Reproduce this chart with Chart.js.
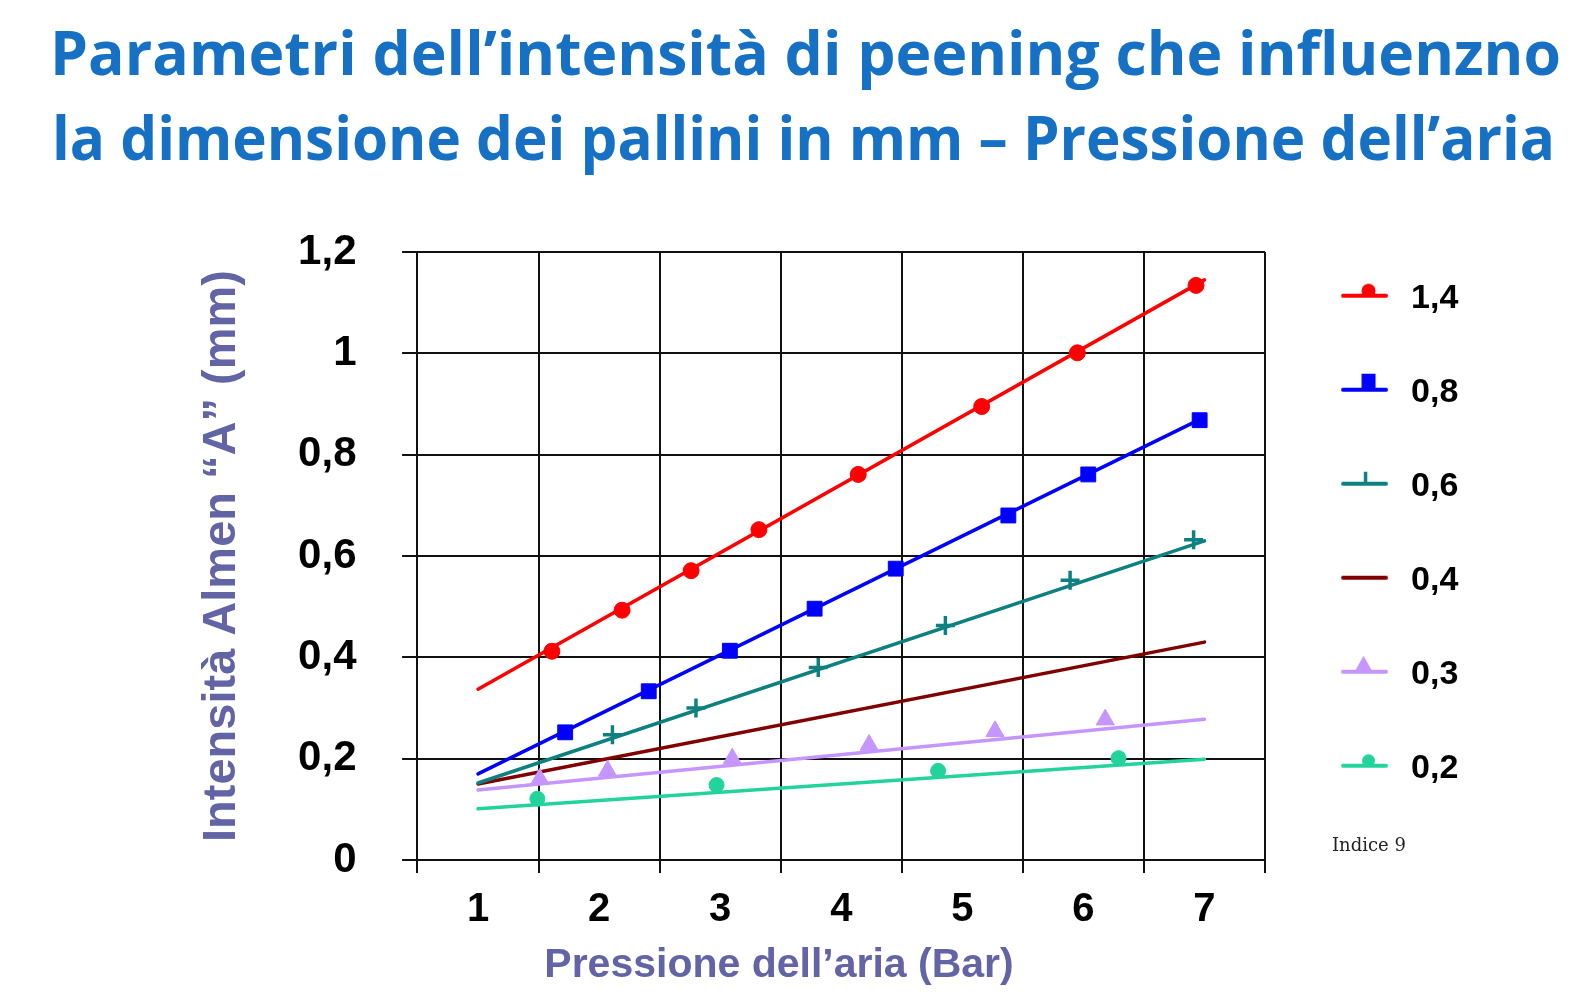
<!DOCTYPE html>
<html>
<head>
<meta charset="utf-8">
<script src="https://cdn.jsdelivr.net/npm/chart.js@4/dist/chart.umd.min.js"></script>
<style>
  html, body { margin: 0; padding: 0; background: #ffffff; }
  #wrap { position: relative; width: 1581px; height: 995px; overflow: hidden; }
  #chartBox { position: absolute; left: 0; top: 0; width: 1581px; height: 995px; }
  .ttl { position: absolute; white-space: nowrap; font-family: 'Open Sans', 'Noto Sans', sans-serif;
         font-weight: 700; font-size: 60px; line-height: 1; color: #1670c4; transform-origin: 0 0; }
  #xTitle { position: absolute; left: 0; width: 1558px; top: 943px; text-align: center;
            font-family: 'Liberation Sans', Arial, sans-serif; font-weight: 700; font-size: 41px;
            line-height: 1; color: #6264a6; white-space: nowrap; }
  #note { position: absolute; left: 1332px; top: 836px; font-family: 'DejaVu Serif', serif;
          font-size: 18px; line-height: 1; color: #222; white-space: nowrap; }
</style>
</head>
<body>
<div id="wrap">
  <div id="chartBox"><canvas id="c"></canvas></div>
  <div class="ttl" id="t1">Parametri dell’intensità di peening che influenzno</div>
  <div class="ttl" id="t2">la dimensione dei pallini in mm – Pressione dell’aria</div>
  <div id="xTitle">Pressione dell’aria (Bar)</div>
  <div id="note">Indice 9</div>
</div>
<script>
// ---------- data ----------
const seriesLabels = ['1,4', '0,8', '0,6', '0,4', '0,3', '0,2'];
const trendX = [1, 7];
const trendStart = [0.337, 0.170, 0.152, 0.150, 0.138, 0.101];   // value at x = 1
const trendEnd   = [1.145, 0.874, 0.630, 0.430, 0.278, 0.199];   // value at x = 7

const redX   = [1.61, 2.19, 2.76, 3.32, 4.14, 5.16, 5.95, 6.93];
const redY   = [0.412, 0.493, 0.571, 0.652, 0.761, 0.895, 1.001, 1.134];
const blueX  = [1.72, 2.41, 3.08, 3.78, 4.45, 5.38, 6.04, 6.96];
const blueY  = [0.252, 0.333, 0.413, 0.496, 0.575, 0.680, 0.761, 0.868];
const tealX  = [2.11, 2.80, 3.81, 4.86, 5.89, 6.91];
const tealY  = [0.247, 0.300, 0.380, 0.463, 0.552, 0.632];
const lilacX = [1.51, 2.07, 3.10, 4.23, 5.27, 6.18];
const lilacY = [0.160, 0.176, 0.200, 0.227, 0.254, 0.277];
const mintX  = [1.49, 2.97, 4.80, 6.29];
const mintY  = [0.121, 0.148, 0.176, 0.201];

const xMin = 0.5, xMax = 7.5, xStep = 0.5;
const yMin = 0, yMax = 1.2, yStep = 0.2;

// ---------- styles ----------
const colors  = ['#ff0000', '#0000ff', '#0f8080', '#800000', '#c596ff', '#22d49b'];
const mStyles = ['circle', 'rect', 'cross', null, 'triangle', 'circle'];
const mRadius = [8, 10.5, 9.5, 0, 10.5, 7.5];
const pointsX = [redX, blueX, tealX, null, lilacX, mintX];
const pointsY = [redY, blueY, tealY, null, lilacY, mintY];

function pairs(xs, ys) { return xs.map((x, i) => ({x: x, y: ys[i]})); }

// legend icons: short line with the marker sitting on top of it
function makeIcon(i) {
  const W = 69, H = 40, ly = 17, mx = 43.5;
  const c = document.createElement('canvas');
  c.width = W; c.height = H;
  const g = c.getContext('2d');
  g.strokeStyle = colors[i]; g.fillStyle = colors[i];
  g.save();
  g.beginPath(); g.rect(0, 0, W, ly + 1); g.clip();
  const s = mStyles[i];
  if (s === 'circle') {
    const r = i === 0 ? 7 : 6.5;
    g.beginPath(); g.arc(mx, ly - 5, r, 0, Math.PI * 2); g.fill();
  } else if (s === 'rect') {
    g.fillRect(mx - 7, ly - 16, 14, 16);
  } else if (s === 'cross') {
    g.lineWidth = 3.5; g.beginPath(); g.moveTo(mx - 3, ly - 12); g.lineTo(mx - 3, ly); g.stroke();
  } else if (s === 'triangle') {
    g.beginPath(); g.moveTo(mx - 5, ly - 16); g.lineTo(mx + 4, ly); g.lineTo(mx - 14, ly); g.closePath(); g.fill();
  }
  g.restore();
  g.lineWidth = 4; g.lineCap = 'round';
  g.beginPath(); g.moveTo(18, ly); g.lineTo(61, ly); g.stroke();
  return c;
}
const icons = seriesLabels.map((_, i) => makeIcon(i));

// ---------- datasets ----------
const datasets = [];
seriesLabels.forEach((lab, i) => {
  if (pointsX[i]) {
    datasets.push({
      label: lab + ' punti', data: pairs(pointsX[i], pointsY[i]), showLine: false, order: 0,
      pointStyle: mStyles[i], pointRadius: mRadius[i], pointHoverRadius: mRadius[i],
      backgroundColor: colors[i], borderColor: colors[i], pointBorderWidth: mStyles[i] === 'cross' ? 3.5 : 1
    });
  }
});
seriesLabels.forEach((lab, i) => {
  datasets.push({
    label: lab, data: pairs(trendX, [trendStart[i], trendEnd[i]]), showLine: true, order: 1,
    isTrend: true, seriesIndex: i, borderColor: colors[i], backgroundColor: colors[i],
    borderWidth: 3.5, borderCapStyle: 'round', pointRadius: 0, pointHoverRadius: 0
  });
});

const isInt = v => Math.abs(v - Math.round(v)) < 1e-6;
const BASE_FONT = "'Liberation Sans', Arial, sans-serif";
Chart.defaults.font.family = BASE_FONT;

new Chart(document.getElementById('c'), {
  type: 'scatter',
  data: { datasets: datasets },
  options: {
    responsive: true, maintainAspectRatio: false, animation: false,
    events: [],
    layout: { padding: { left: 193.8, right: 112.7, top: 221.7, bottom: 48 } },
    plugins: {
      tooltip: { enabled: false },
      title: { display: true, text: ' ', fullSize: false, position: 'top',
               font: { size: 1, lineHeight: 1 }, padding: { top: 29.3, bottom: 0 } },
      legend: {
        position: 'right', align: 'start', fullSize: true,
        labels: {
          usePointStyle: true, pointStyleWidth: 69, padding: 60, color: '#000',
          font: { size: 34, weight: 'bold', family: BASE_FONT },
          filter: (item, data) => !!data.datasets[item.datasetIndex].isTrend,
          generateLabels: chart => {
            const items = Chart.defaults.plugins.legend.labels.generateLabels(chart);
            return items.map(it => {
              const ds = chart.data.datasets[it.datasetIndex];
              if (ds.isTrend) it.pointStyle = icons[ds.seriesIndex];
              return it;
            });
          }
        }
      }
    },
    scales: {
      x: {
        type: 'linear', min: xMin, max: xMax,
        border: { display: true, color: '#111', width: 2 },
        grid: { color: ctx => (ctx.tick && !isInt(ctx.tick.value)) ? '#111' : 'rgba(0,0,0,0)',
                lineWidth: 2, tickLength: 13 },
        ticks: { stepSize: xStep, autoSkip: false, maxRotation: 0, padding: 13, color: '#000',
                 font: { size: 40, weight: 'bold' },
                 callback: v => isInt(v) ? String(Math.round(v)) : '' },
        title: { display: false }
      },
      y: {
        type: 'linear', min: yMin, max: yMax,
        border: { display: true, color: '#111', width: 2 },
        grid: { color: '#111', lineWidth: 2, tickLength: 15.4 },
        ticks: { stepSize: yStep, autoSkip: false, padding: 45.6, color: '#000',
                 font: { size: 42, weight: 'bold' },
                 callback: v => (Math.round(v * 10) / 10).toString().replace('.', ',') },
        title: { display: true, text: 'Intensità Almen “A” (mm)', color: '#6264a6',
                 font: { size: 47, weight: 'bold', family: BASE_FONT, lineHeight: 1.2 },
                 padding: { top: 0, bottom: 2.3 } }
      }
    }
  }
});

// ---------- title fitting ----------
function fitTitle(id, left, baseline, width) {
  const el = document.getElementById(id);
  const m = document.createElement('canvas').getContext('2d');
  m.font = "700 60px 'Open Sans'";
  const w = m.measureText(el.textContent).width;
  el.style.left = left + 'px';
  el.style.top = (baseline - 53.3) + 'px';
  el.style.transform = 'scaleX(' + (width / w) + ')';
}
fitTitle('t1', 50, 75, 1511);
fitTitle('t2', 52, 160, 1503);
</script>
</body>
</html>
